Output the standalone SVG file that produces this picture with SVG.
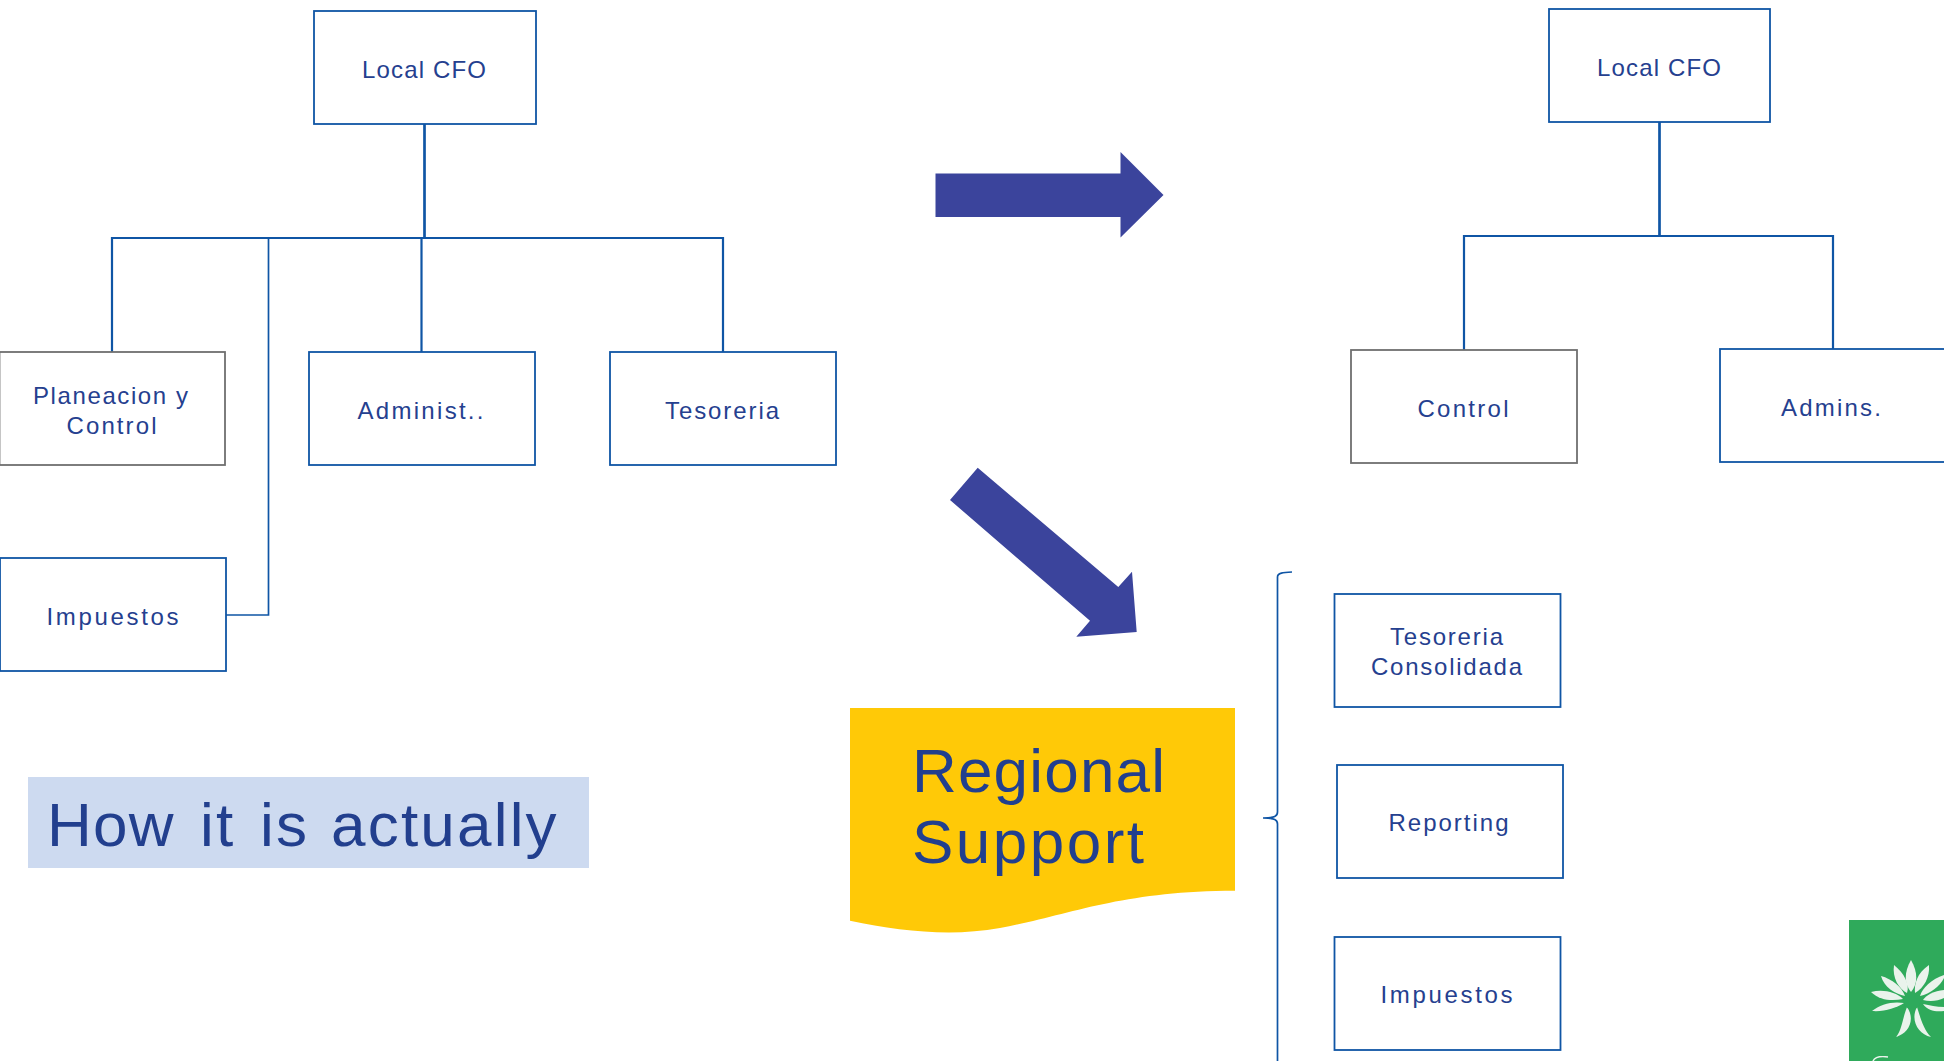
<svg xmlns="http://www.w3.org/2000/svg" width="1944" height="1061" viewBox="0 0 1944 1061">
<defs><filter id="soft" x="-5%" y="-5%" width="110%" height="110%"><feGaussianBlur stdDeviation="0.7"/></filter></defs>
<style>
.b{fill:#fff;stroke:#0f55a5;stroke-width:1.800}
.g{fill:#fff;stroke:#6f6f6f;stroke-width:1.800}
.t{font-family:"Liberation Sans",Arial,sans-serif;font-size:24px;fill:#25408f;text-anchor:middle}
.c{fill:none;stroke:#0f55a5;stroke-width:2.200}
.c1{fill:none;stroke:#0f55a5;stroke-width:1.700}
.c2{fill:none;stroke:#0f55a5;stroke-width:2.700}
.a{fill:#3b449c}
.big{font-family:"Liberation Sans",Arial,sans-serif;fill:#223f8e}
</style>
<rect width="1944" height="1061" fill="#fff"/>
<g id="connectors">
<path class="c2" d="M424.500 124V238"/>
<path class="c" d="M112 352V238H723V352M421.500 238V352"/>
<path class="c1" d="M268.500 238V615H226"/>
<path class="c2" d="M1659.500 122V236"/>
<path class="c" d="M1464 350V236H1833V350"/>
<path class="c1" d="M1292 572C1283 572.500 1277.500 573 1277.500 577V812C1277.500 816 1275 818 1263 818C1275 818 1277.500 820 1277.500 824V1061"/>
</g>
<g id="arrow-right"><path class="a" d="M935.500 173.500H1120.500V152L1163.500 195L1120.500 237.500V217H935.500Z"/></g>
<g id="arrow-down"><path class="a" d="M977.700 467.700L950 500L1090 620.700L1076.300 636.700L1136.700 632L1132 571.700L1118.300 587Z"/></g>
<g id="node-cfo-left"><rect class="b" x="314" y="11" width="222" height="113"/><text class="t" x="424" y="78" textLength="124">Local CFO</text></g>
<g id="node-planeacion"><rect class="g" x="-0.500" y="352" width="225.500" height="113"/><text class="t" x="110.500" y="404" textLength="155">Planeacion y</text><text class="t" x="111.500" y="434" textLength="90">Control</text></g>
<g id="node-administ"><rect class="b" x="309" y="352" width="226" height="113"/><text class="t" x="420.500" y="419" textLength="126">Administ..</text></g>
<g id="node-tesoreria"><rect class="b" x="610" y="352" width="226" height="113"/><text class="t" x="722" y="419" textLength="114">Tesoreria</text></g>
<g id="node-impuestos-left"><rect class="b" x="0" y="558" width="226" height="113"/><text class="t" x="112.500" y="625" textLength="132">Impuestos</text></g>
<g id="node-cfo-right"><rect class="b" x="1549" y="9" width="221" height="113"/><text class="t" x="1659" y="76" textLength="124">Local CFO</text></g>
<g id="node-control"><rect class="g" x="1351" y="350" width="226" height="113"/><text class="t" x="1463" y="417" textLength="91">Control</text></g>
<g id="node-admins"><rect class="b" x="1720" y="349" width="226" height="113"/><text class="t" x="1831" y="416" textLength="100">Admins.</text></g>
<g id="node-tesoreria-cons"><rect class="b" x="1334.500" y="594" width="226" height="113"/><text class="t" x="1446.500" y="645" textLength="113">Tesoreria</text><text class="t" x="1446.500" y="675" textLength="151">Consolidada</text></g>
<g id="node-reporting"><rect class="b" x="1337" y="765" width="226" height="113"/><text class="t" x="1448.500" y="831" textLength="120">Reporting</text></g>
<g id="node-impuestos-right"><rect class="b" x="1334.500" y="937" width="226" height="113"/><text class="t" x="1446.500" y="1003" textLength="132">Impuestos</text></g>
<g id="label-actual"><rect x="28" y="777" width="561" height="91" fill="#cddaf0"/><text class="big" y="846" font-size="62" letter-spacing="2.200"><tspan x="47" letter-spacing="1.200">How </tspan><tspan x="200">it </tspan><tspan x="260">is </tspan><tspan x="331">actually</tspan></text></g>
<g id="label-regional"><path fill="#ffc907" d="M850 708H1235V890.700C1120 891 1070 915 1000 928C950 937 900 931 850 920.700Z"/><text class="big" x="912" y="792" font-size="62" textLength="253">Regional</text><text class="big" x="912" y="863" font-size="62" textLength="232">Support</text></g>
<g id="logo"><rect x="1849" y="920" width="95" height="141" fill="#2faa5b"/>
<g filter="url(#soft)">
<g fill="#eaf3ec">
<path d="M1911 960C1904 972 1904 984 1911 992C1918 984 1918 972 1911 960Z"/>
<path d="M1894 965C1892 978 1899 989 1907 993C1910 984 1904 973 1894 965Z"/>
<path d="M1929 965C1917 973 1914 984 1915 993C1924 988 1930 977 1929 965Z"/>
<path d="M1881 976C1884 987 1895 994 1905 996C1902 987 1892 979 1881 976Z"/>
<path d="M1944 975C1932 979 1922 988 1920 996C1930 994 1940 986 1944 978Z"/>
<path d="M1871 992C1880 1001 1893 1001 1903 999C1896 992 1883 989 1871 992Z"/>
<path d="M1944 990C1934 991 1926 995 1923 1000C1930 1002 1938 1001 1944 998Z"/>
<path d="M1872 1011C1884 1012 1896 1008 1904 1003C1893 1001 1880 1004 1872 1011Z"/>
<path d="M1944 1007C1936 1007 1930 1005 1923 1004C1928 1011 1936 1012 1944 1011Z"/>
<path d="M1907 1007C1902 1020 1902 1030 1896 1037C1908 1034 1916 1020 1907 1007Z"/>
<path d="M1917 1007C1910 1020 1918 1034 1931 1037C1924 1030 1921 1020 1917 1007Z"/>
</g>
<circle cx="1912" cy="1001" r="8.500" fill="#2faa5b"/>
</g>
<path d="M1873 1061C1875 1057 1881 1056 1888 1057" fill="none" stroke="#eaf3ec" stroke-width="1.500" filter="url(#soft)"/>
</g>
</svg>
